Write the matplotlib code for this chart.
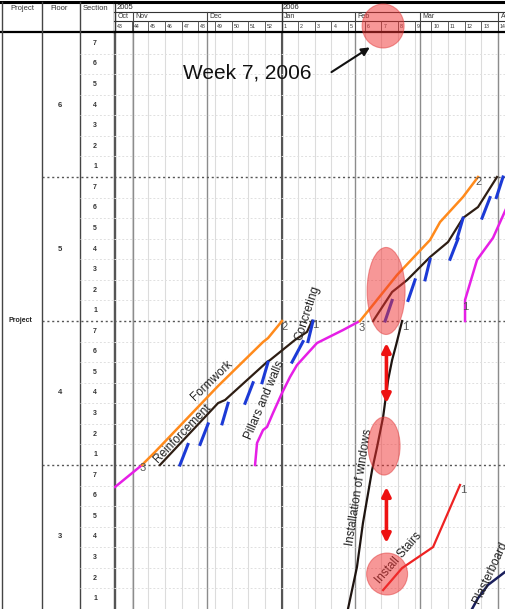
import matplotlib.pyplot as plt
from matplotlib.patches import Ellipse

plt.rcParams['font.family'] = ['Liberation Sans', 'DejaVu Sans']

# calendar (x unit = weeks counted from the start of week 43, 2005)
weeks = [43, 44, 45, 46, 47, 48, 49, 50, 51, 52, 1, 2, 3, 4, 5, 6, 7, 8, 9, 10, 11, 12, 13, 14]
months = ['Oct', 'Nov', 'Dec', 'Jan', 'Feb', 'Mar', 'Apr']
month_start = [0, 1.1, 5.5, 10, 14.4, 18.3, 23.0]
years = ['2005', '2006']
year_start = [0, 10]

# location (y unit = sections counted from the bottom of floor 3)
floors = [3, 4, 5, 6]
sections = [1, 2, 3, 4, 5, 6, 7]

# flowlines: time (weeks) and location (sections)
pillars_f3_t = [0.0, 1.62]
pillars_f3_s = [5.93, 7.0]
pillars_f4_t = [8.41, 8.53, 8.89, 9.13, 9.49, 10.03, 10.51, 10.93, 12.13, 13.69, 14.59]
pillars_f4_s = [7.0, 8.07, 8.70, 8.85, 9.53, 10.50, 11.28, 11.86, 12.93, 13.56, 13.95]
pillars_f5_t = [21.02, 21.02, 21.74, 22.70, 23.72]
pillars_f5_s = [14.0, 15.02, 16.97, 18.04, 19.88]

formwork_f4_t = [1.62, 2.40, 6.19, 8.89, 9.19, 10.03]
formwork_f4_s = [7.0, 7.63, 10.84, 12.98, 13.17, 14.0]
formwork_f5_t = [14.71, 15.44, 16.94, 18.92, 19.52, 20.90, 21.80]
formwork_f5_s = [14.0, 14.73, 16.24, 17.94, 18.81, 20.03, 21.0]

reinf_f4_t = [2.70, 6.19, 6.61, 9.13, 9.31, 10.81, 11.53, 11.83]
reinf_f4_s = [7.0, 10.01, 10.16, 12.01, 12.10, 13.08, 13.47, 14.0]
reinf_f5_t = [15.50, 16.64, 17.54, 18.92, 20.0, 20.90, 21.80, 22.94]
reinf_f5_s = [14.0, 15.41, 15.99, 17.11, 17.84, 19.01, 19.54, 21.0]

# concreting: one short run per section
concr_f4_start = [3.90, 5.11, 6.43, 7.81, 8.83, 10.63, 11.59]
concr_f4_end = [4.38, 5.59, 6.79, 8.29, 9.19, 11.29, 11.89]
concr_f5_start = [16.22, 17.60, 18.62, 20.12, 20.54, 22.04, 22.90]
concr_f5_end = [16.64, 18.02, 18.92, 20.60, 20.90, 22.52, 23.30]

windows_t = [13.99, 14.53, 14.89, 15.44, 15.74, 16.10, 16.40, 16.64, 16.88, 17.24]
windows_s = [0.0, 2.04, 4.18, 6.76, 7.88, 9.33, 11.13, 12.10, 12.83, 14.0]

stairs_t = [16.10, 17.24, 19.10, 20.72]
stairs_s = [0.92, 1.99, 3.01, 6.03]

plaster_t = [21.44, 21.80, 22.40, 23.42]
plaster_s = [0.0, 0.53, 1.17, 1.80]

W, H = 505, 609


def rect(x0, y0, x1, y1):
    return [x0 / W, 1 - y1 / H, (x1 - x0) / W, (y1 - y0) / H]


fig = plt.figure(figsize=(W / 100, H / 100), dpi=100)
ax = fig.add_axes(rect(114, 33, 505, 609))
ax.set_facecolor('none')
ax.set_xlim(-0.06, 23.42)
ax.set_ylim(0, 28)
ax.axis('off')

hdr = fig.add_axes(rect(114, 0, 505, 33), sharex=ax)
hdr.set_facecolor('none')
hdr.set_ylim(33, 0)
hdr.axis('off')

tab = fig.add_axes(rect(0, 33, 114, 609))
tab.set_facecolor('none')
tab.set_xlim(0, 114)
tab.set_ylim(0, 28)
tab.axis('off')

lhd = fig.add_axes(rect(0, 0, 114, 33))
lhd.set_facecolor('none')
lhd.set_xlim(0, 114)
lhd.set_ylim(33, 0)
lhd.axis('off')

nsec = len(sections)

# grid in the chart
for i in range(len(weeks) + 1):
    ax.axvline(i, color='#dcdcdc', lw=0.8, zorder=0)
for m in month_start:
    ax.axvline(m, color='#8c8c8c', lw=1.0, zorder=0)
for y in year_start:
    ax.axvline(y, color='#555555', lw=1.5, zorder=0)
for k in range(1, len(floors) * nsec):
    if k % nsec:
        ax.axhline(k, color='#e0e0e0', lw=0.7, ls=(0, (2, 2)), zorder=0)
    else:
        ax.axhline(k, color='#555555', lw=1.0, ls=(0, (1.5, 2)), zorder=0)

# flowlines
ax.plot(pillars_f3_t, pillars_f3_s, color='#e61fe6', lw=1.8)
ax.plot(pillars_f4_t, pillars_f4_s, color='#e61fe6', lw=1.8)
ax.plot(pillars_f5_t, pillars_f5_s, color='#e61fe6', lw=1.8)
ax.plot(formwork_f4_t, formwork_f4_s, color='#ff8a1c', lw=1.8)
ax.plot(formwork_f5_t, formwork_f5_s, color='#ff8a1c', lw=1.8)
ax.plot(reinf_f4_t, reinf_f4_s, color='#2e1e14', lw=1.6)
ax.plot(reinf_f5_t, reinf_f5_s, color='#2e1e14', lw=1.6)
for base, st, en in [(7, concr_f4_start, concr_f4_end), (14, concr_f5_start, concr_f5_end)]:
    for k in range(nsec):
        ax.plot([st[k], en[k]], [base + k, base + k + 1], color='#1c3ad6', lw=2.2)
ax.plot(windows_t, windows_s, color='#1e1410', lw=1.6)
ax.plot(stairs_t, stairs_s, color='#ee2222', lw=1.6)
ax.plot(plaster_t, plaster_s, color='#1a1f5c', lw=1.8)

# activity names
lab = dict(fontsize=8.5, color='#222222', ha='center', va='center', rotation_mode='anchor')
ax.text(5.83, 11.08, 'Formwork', rotation=44, **lab)
ax.text(4.07, 8.54, 'Reinforcement', rotation=46, **lab)
ax.text(9.01, 10.16, 'Pillars and walls', rotation=67, **lab)
ax.text(11.55, 14.37, 'Concreting', rotation=72, **lab)
ax.text(14.65, 5.92, 'Installation of windows', rotation=81, **lab)
ax.text(17.02, 2.46, 'Install Stairs', rotation=49, **lab)
ax.text(22.52, 1.75, 'Plasterboard', rotation=65, clip_on=True, **lab)

# floor numbers at line ends
num = dict(fontsize=8, color='#555555', ha='center', va='center')
for t, s, n in [(1.68, 6.85, '3'), (10.21, 13.71, '2'), (12.01, 13.81, '1'),
                (14.83, 13.66, '3'), (17.42, 13.71, '1'), (21.86, 20.76, '2'),
                (21.02, 14.68, '1'), (20.90, 5.79, '1')]:
    ax.text(t, s, n, **num)

# highlights
for t, s, w, h in [(16.28, 15.46, 2.28, 4.23), (16.16, 7.92, 1.92, 2.82), (16.34, 1.70, 2.46, 2.04)]:
    ax.add_patch(Ellipse((t, s), w, h, facecolor='#f03030', edgecolor='#e03a3a',
                         alpha=0.5, lw=0.8, zorder=5))
hdr.add_patch(Ellipse((16.10, 26), 2.52, 44, facecolor='#f03030', edgecolor='#e03a3a',
                      alpha=0.5, lw=0.8, zorder=5, clip_on=False))
for s0, s1 in [(10.01, 12.93), (3.21, 5.93)]:
    ax.annotate('', xy=(16.30, s1), xytext=(16.30, s0),
                arrowprops=dict(arrowstyle='<|-|>', color='#ee1111', lw=2.6,
                                mutation_scale=13, shrinkA=0, shrinkB=0), zorder=6)

ax.text(4.08, 26.06, 'Week 7, 2006', fontsize=15, color='#111111', ha='left', va='center')
ax.annotate('', xy=(15.30, 27.3), xytext=(13.0, 26.1),
            arrowprops=dict(arrowstyle='-|>', color='#111111', lw=1.5,
                            mutation_scale=12, shrinkA=0, shrinkB=0))

# header of the calendar
hdr.plot([-0.06, 23.42], [12, 12], color='#333333', lw=0.8, clip_on=False)
hdr.plot([-0.06, 23.42], [21, 21], color='#333333', lw=0.8, clip_on=False)
for i in range(len(weeks)):
    hdr.plot([i, i], [21, 32], color='#444444', lw=0.6)
    hdr.text(i + 0.12, 26.5, str(weeks[i]), fontsize=3.8, color='#333333', va='center')
for m, name in zip(month_start, months):
    hdr.plot([m, m], [12, 32], color='#444444', lw=0.8)
    hdr.text(m + 0.15, 16.5, name, fontsize=5, color='#333333', va='center')
for y, name in zip(year_start, years):
    hdr.plot([y, y], [2, 32], color='#333333', lw=1.0)
    hdr.text(y + 0.08, 7.2, name, fontsize=5.5, color='#222222', va='center')

# left table header
lhd.plot([0, 114], [2, 2], color='black', lw=2.2, clip_on=False)
hdr.plot([-0.06, 23.42], [2, 2], color='black', lw=2.2, clip_on=False)
lhd.plot([0, 114], [32, 32], color='black', lw=1.6, clip_on=False)
hdr.plot([-0.06, 23.42], [32, 32], color='black', lw=1.6, clip_on=False)
for x in [2, 42, 80, 114]:
    lhd.plot([x, x], [2, 33], color='#444444', lw=1.0)
for x, name in [(10, 'Project'), (50, 'Floor'), (83, 'Section')]:
    lhd.text(x, 8, name, fontsize=5.5, color='#333333', va='center')

# left table body
for x in [2, 42, 80, 114]:
    tab.plot([x, x], [0, 28], color='#444444', lw=1.0)
for i, f in enumerate(floors):
    tab.text(60, i * nsec + nsec / 2, str(f), fontsize=5.5, color='#333333',
             ha='center', va='center', fontweight='bold')
    for j, sec in enumerate(sections):
        tab.text(95, i * nsec + j + 0.5, str(sec), fontsize=5, color='#333333',
                 ha='center', va='center', fontweight='bold')
        if j:
            tab.plot([80, 114], [i * nsec + j] * 2, color='#e0e0e0', lw=0.7, ls=(0, (2, 2)))
    if i:
        tab.plot([42, 114], [i * nsec] * 2, color='#555555', lw=1.0, ls=(0, (1.5, 2)))
tab.text(20, 14, 'Project', fontsize=5, color='#222222', ha='center', va='center',
         fontweight='bold')

fig.savefig('out.png', dpi=100)
